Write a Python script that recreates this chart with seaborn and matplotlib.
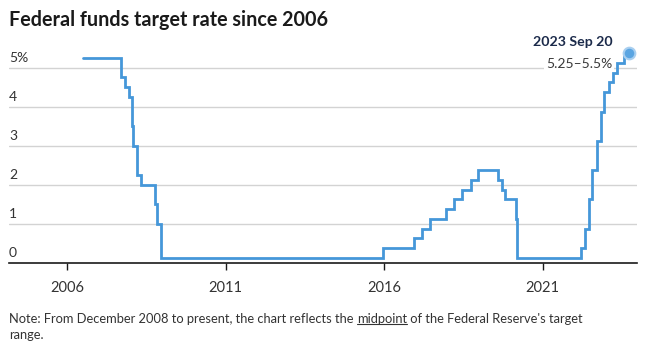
import matplotlib
matplotlib.use("Agg")
import matplotlib.pyplot as plt
import matplotlib.dates as mdates
from matplotlib.lines import Line2D
import seaborn as sns
import pandas as pd

# ---- data ----
change_dates = ["2006-06-29", "2007-09-18", "2007-10-31", "2007-12-11", "2008-01-22",
                "2008-01-30", "2008-03-18", "2008-04-30", "2008-10-08", "2008-10-29",
                "2008-12-16", "2015-12-16", "2016-12-14", "2017-03-15", "2017-06-14",
                "2017-12-13", "2018-03-21", "2018-06-13", "2018-09-26", "2018-12-19",
                "2019-07-31", "2019-09-18", "2019-10-30", "2020-03-03", "2020-03-15",
                "2022-03-16", "2022-05-04", "2022-06-15", "2022-07-27", "2022-09-21",
                "2022-11-02", "2022-12-14", "2023-02-01", "2023-03-22", "2023-05-03",
                "2023-07-26", "2023-09-20"]
target_rate = [5.25, 4.75, 4.5, 4.25, 3.5,
               3.0, 2.25, 2.0, 1.5, 1.0,
               0.125, 0.375, 0.625, 0.875, 1.125,
               1.375, 1.625, 1.875, 2.125, 2.375,
               2.125, 1.875, 1.625, 1.125, 0.125,
               0.375, 0.875, 1.625, 2.375, 3.125,
               3.875, 4.375, 4.625, 4.875, 5.125,
               5.375, 5.375]
x_tick_years = ["2006", "2011", "2016", "2021"]
y_ticks = [0, 1, 2, 3, 4, 5]
y_tick_labels = ["0", "1", "2", "3", "4", "5%"]
title = "Federal funds target rate since 2006"
last_date_label = "2023 Sep 20"
last_value_label = "5.25\u20135.5%"
note_prefix = "Note: From December 2008 to present, the chart reflects the "
note_word = "midpoint"
note_suffix = " of the Federal Reserve's target"
note_line2 = "range."

df = pd.DataFrame({"date": pd.to_datetime(change_dates), "rate": target_rate})

# ---- styling ----
sns.set_theme(style="white")
plt.rcParams["font.family"] = ["Lato", "DejaVu Sans"]

W, H = 655, 346
fig = plt.figure(figsize=(W / 100, H / 100), dpi=100)
left_px, right_px, top_px, bottom_px = 9, 636.7, 42, 262.7
ax = fig.add_axes([left_px / W, 1 - bottom_px / H,
                   (right_px - left_px) / W, (bottom_px - top_px) / H])

line_color = "#4597d9"
sns.lineplot(data=df, x="date", y="rate", ax=ax, color=line_color,
             linewidth=2.0, drawstyle="steps-post", solid_joinstyle="miter")

# end dot
last = df.iloc[-1]
ax.scatter([last["date"]], [last["rate"]], s=70, color="#5aa5e2", zorder=5,
           edgecolor="#a9cff0", linewidth=1.5)

ymax = (bottom_px - top_px) / 39.0
ax.set_ylim(0, ymax)
ax.set_xlim(pd.Timestamp("2004-03-03"), pd.Timestamp("2023-12-20"))

# grid lines
for v in y_ticks[1:]:
    ax.axhline(v, color="#d3d3d3", linewidth=1.0, zorder=0)

for s in ["top", "right", "left"]:
    ax.spines[s].set_visible(False)
ax.spines["bottom"].set_color("#1a1a1a")
ax.spines["bottom"].set_linewidth(1.2)

ax.set_yticks([])
ax.set_xlabel("")
ax.set_ylabel("")

ax.set_xticks([pd.Timestamp(y + "-01-01") for y in x_tick_years])
ax.set_xticklabels(x_tick_years)
ax.tick_params(axis="x", which="major", direction="out", length=5, width=1,
               color="#1a1a1a", pad=8, labelsize=10.5, labelcolor="#333333",
               bottom=True)

# y labels above grid lines
for v, lab in zip(y_ticks, y_tick_labels):
    ax.annotate(lab, xy=(0, v), xycoords=("axes fraction", "data"),
                xytext=(0, 3), textcoords="offset points", ha="left", va="bottom",
                fontsize=10, color="#333333")

# annotation
ax.annotate(last_date_label, xy=(last["date"], last["rate"]),
            xytext=(-12, 4), textcoords="offset points", ha="right", va="bottom",
            fontsize=10.2, fontweight="bold", color="#1b2a4a")
ax.annotate(last_value_label, xy=(last["date"], last["rate"]),
            xytext=(-12, -3.5), textcoords="offset points", ha="right", va="top",
            fontsize=10, color="#3a3a3a",
            bbox=dict(boxstyle="square,pad=0.1", facecolor="white", edgecolor="none"))

# title
fig.text(9 / W, 1 - 20 / H, title, ha="left", va="center", fontsize=14.2,
         fontweight="bold", color="#1a1a1a")

# note with underlined word
note_y = 1 - 319 / H
note_kw = dict(fontsize=9.25, color="#333333", va="center", ha="left")
renderer = fig.canvas.get_renderer()
t1 = fig.text(9 / W, note_y, note_prefix, **note_kw)
w1 = t1.get_window_extent(renderer).width
t2 = fig.text((9 + w1) / W, note_y, note_word, **note_kw)
bb2 = t2.get_window_extent(renderer)
fig.text((9 + w1 + bb2.width) / W, note_y, note_suffix, **note_kw)
ul_y = bb2.y0 + 1.5
fig.add_artist(Line2D([bb2.x0 / W, bb2.x1 / W], [ul_y / H, ul_y / H],
                      transform=fig.transFigure, color="#333333", linewidth=0.8))
fig.text(9 / W, 1 - 335 / H, note_line2, **note_kw)

fig.savefig("out.png", dpi=100)
